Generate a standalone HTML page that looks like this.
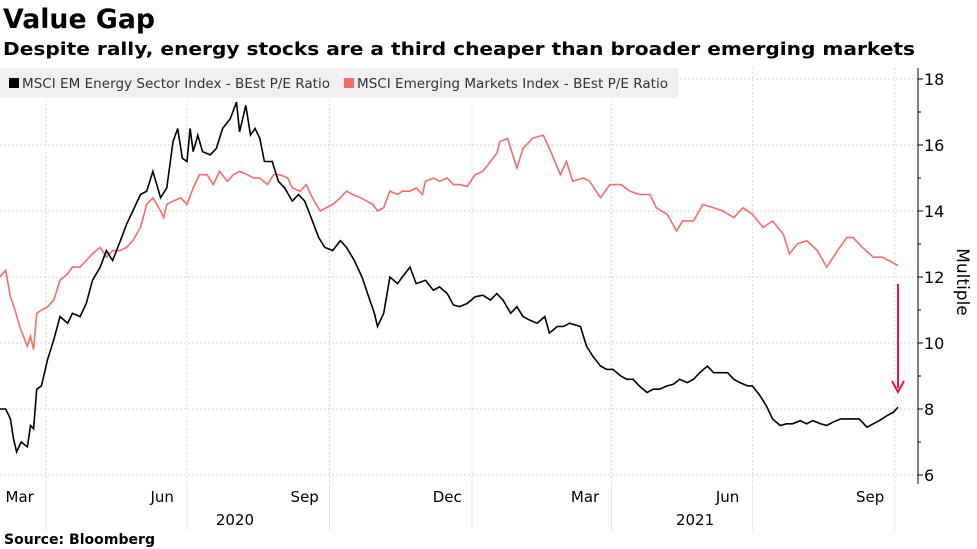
<!DOCTYPE html>
<html><head><meta charset="utf-8">
<style>
body{margin:0;background:#fff;font-family:"DejaVu Sans","Liberation Sans",sans-serif;}
svg{display:block}
</style></head>
<body>
<svg id="chart" width="977" height="549" font-family="DejaVu Sans, Liberation Sans, sans-serif">
<text x="3" y="28" font-size="27" font-weight="bold" fill="#000" textLength="152" lengthAdjust="spacingAndGlyphs">Value Gap</text>
<text x="3" y="55" font-size="18" font-weight="bold" fill="#000" textLength="912" lengthAdjust="spacingAndGlyphs">Despite rally, energy stocks are a third cheaper than broader emerging markets</text>
<g id="grid"></g>
<g id="series"></g>
<rect x="0" y="68" width="678" height="30" fill="#f0f0f0"/>
<rect x="9" y="78" width="10" height="10" fill="#000"/>
<text x="22" y="88" font-size="13" fill="#333" textLength="308" lengthAdjust="spacingAndGlyphs">MSCI EM Energy Sector Index - BEst P/E Ratio</text>
<rect x="344" y="78" width="10" height="10" fill="#f76b6b"/>
<text x="357" y="88" font-size="13" fill="#333" textLength="311" lengthAdjust="spacingAndGlyphs">MSCI Emerging Markets Index - BEst P/E Ratio</text>
<line x1="918" y1="68" x2="918" y2="484" stroke="#000" stroke-width="1"/>
<g id="yaxis"></g>
<text transform="translate(957,282) rotate(90)" text-anchor="middle" font-size="17" fill="#000">Multiple</text>
<g id="xaxis"></g>
<line x1="898" y1="284" x2="898" y2="388" stroke="#e8193c" stroke-width="2"/>
<polyline points="892,381 898,392 904,381" fill="none" stroke="#e8193c" stroke-width="2"/>
<text x="4" y="544" font-size="14" font-weight="bold" fill="#000" textLength="151" lengthAdjust="spacingAndGlyphs">Source: Bloomberg</text>
</svg>
<script>
const energyDays=[1,5,8,10,12,15,19,21,23,25,28,32,36,40,45,48,53,57,61,66,70,74,79,83,87,92,96,100,105,109,113,116,119,122,124,126,129,132,137,141,145,150,154,156,160,163,166,169,172,177,181,185,190,194,198,203,207,211,216,221,225,230,235,240,243,245,249,253,258,261,266,270,276,281,285,290,294,298,303,308,313,318,322,326,331,335,339,343,348,353,356,361,365,369,376,380,384,389,393,397,402,406,410,414,419,423,427,432,436,440,445,449,453,458,462,466,471,475,479,484,487,492,496,500,505,509,513,518,522,526,531,535,539,544,548,552,556,561,565,569,574,578,581];
const energyValues=[8.0,8.0,7.7,7.1,6.7,7.0,6.85,7.5,7.4,8.6,8.7,9.5,10.1,10.8,10.6,10.9,10.8,11.2,11.9,12.3,12.8,12.5,13.1,13.6,14.0,14.5,14.6,15.2,14.4,14.7,16.1,16.5,15.6,15.5,16.5,15.8,16.3,15.8,15.7,15.9,16.5,16.8,17.3,16.4,17.2,16.3,16.5,16.2,15.5,15.5,14.9,14.7,14.3,14.5,14.3,13.7,13.2,12.9,12.8,13.1,12.9,12.5,12.0,11.3,10.9,10.5,10.9,12.0,11.8,12.0,12.3,11.8,11.9,11.6,11.7,11.5,11.15,11.1,11.2,11.4,11.45,11.3,11.5,11.3,10.9,11.1,10.8,10.7,10.6,10.8,10.3,10.5,10.5,10.6,10.5,9.9,9.6,9.3,9.2,9.2,9.0,8.9,8.9,8.7,8.5,8.6,8.6,8.7,8.75,8.9,8.8,8.9,9.1,9.3,9.1,9.1,9.1,8.9,8.8,8.7,8.7,8.4,8.1,7.7,7.5,7.55,7.55,7.65,7.55,7.65,7.55,7.5,7.6,7.7,7.7,7.7,7.7,7.45,7.55,7.65,7.8,7.9,8.05];
const emDays=[1,5,8,11,14,19,21,23,25,28,32,36,40,45,48,53,57,61,66,70,74,79,83,87,92,96,100,105,107,109,113,118,122,126,130,135,139,143,148,152,156,161,165,169,174,178,182,187,190,195,199,203,208,212,216,221,225,229,234,238,242,245,249,253,258,261,266,270,274,276,281,285,290,294,298,303,308,313,318,322,324,329,335,339,345,352,356,363,367,371,378,382,389,395,402,408,414,421,425,432,438,442,449,455,462,468,475,481,487,494,500,507,511,516,522,529,535,542,548,552,558,565,571,581];
const emValues=[12.0,12.2,11.4,11.0,10.5,9.9,10.2,9.8,10.9,11.0,11.1,11.3,11.9,12.1,12.3,12.3,12.5,12.7,12.9,12.6,12.8,12.8,12.9,13.1,13.5,14.2,14.4,14.0,13.8,14.2,14.3,14.4,14.2,14.7,15.1,15.1,14.8,15.2,14.9,15.1,15.2,15.1,15.0,15.0,14.8,15.1,15.1,15.0,14.7,14.6,14.8,14.4,14.0,14.1,14.2,14.4,14.6,14.5,14.4,14.3,14.2,14.0,14.1,14.6,14.5,14.6,14.6,14.7,14.5,14.9,15.0,14.9,15.0,14.8,14.8,14.75,15.1,15.2,15.5,15.75,16.1,16.2,15.3,15.9,16.2,16.3,15.9,15.1,15.5,14.9,15.0,14.9,14.4,14.8,14.8,14.6,14.5,14.5,14.1,13.9,13.4,13.7,13.7,14.2,14.1,14.0,13.8,14.1,13.9,13.5,13.7,13.3,12.7,13.0,13.1,12.8,12.3,12.8,13.2,13.2,12.9,12.6,12.6,12.35];
const yTicks=[6,8,10,12,14,16,18];
const monthGridDays=[31,122,214,306,396,487,579];
const monthLabels=["Mar","Jun","Sep","Dec","Mar","Jun","Sep"];
const monthLabelDays=[14,106,198,290,379,471,563];
const yearLabels=["2020","2021"];
const yearLabelDays=[153,450];

const NS="http://www.w3.org/2000/svg";
const xs=d=>d*1.549-2;
const ys=v=>79+(18-v)*33;
function mk(tag,attrs,parent){const e=document.createElementNS(NS,tag);for(const k in attrs)e.setAttribute(k,attrs[k]);parent.appendChild(e);return e;}
const grid=document.getElementById('grid'),yaxis=document.getElementById('yaxis'),xaxis=document.getElementById('xaxis'),series=document.getElementById('series');
yTicks.forEach(t=>{
  const g=mk('line',{x1:0,x2:918,y1:ys(t),y2:ys(t),stroke:'#d0d0d0','stroke-dasharray':'2,2'},grid);
  
  
  const tk=mk('line',{x1:918,x2:923,y1:ys(t),y2:ys(t),stroke:'#000'},yaxis);
  
  
  const tx=mk('text',{x:924,y:ys(t)+6,'font-size':'16',fill:'#000'},yaxis);
  tx.textContent=t;
  
  
});
for(let v=7;v<18;v+=2){const m=mk('line',{x1:918,x2:921,y1:ys(v),y2:ys(v),stroke:'#000'},yaxis);
  
  }
monthGridDays.forEach(d=>{
  const g=mk('line',{x1:xs(d),x2:xs(d),y1:68,y2:484,stroke:'#d8d8d8','stroke-dasharray':'2,2'},grid);
  
  
  const g2=mk('line',{x1:xs(d),x2:xs(d),y1:484,y2:530,stroke:'#e4e4e4'},grid);
  
  
});
monthLabels.forEach((l,i)=>{
  const t=mk('text',{x:xs(monthLabelDays[i]),y:502,'text-anchor':'middle','font-size':'15',fill:'#000'},xaxis);
  t.textContent=l;
  
  
});
yearLabels.forEach((l,i)=>{
  const t=mk('text',{x:xs(yearLabelDays[i]),y:525,'text-anchor':'middle','font-size':'15',fill:'#000'},xaxis);
  t.textContent=l;
  
  
});
const pEm=mk('polyline',{points:emDays.map((d,i)=>xs(d).toFixed(1)+','+ys(emValues[i]).toFixed(1)).join(' '),fill:'none',stroke:'#f76b6b','stroke-width':'1.6'},series);


const pEn=mk('polyline',{points:energyDays.map((d,i)=>xs(d).toFixed(1)+','+ys(energyValues[i]).toFixed(1)).join(' '),fill:'none',stroke:'#000','stroke-width':'1.6'},series);


</script>
</body></html>
